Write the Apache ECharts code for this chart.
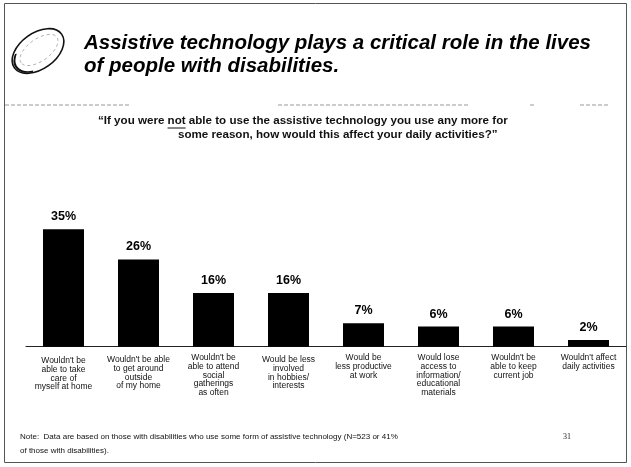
<!DOCTYPE html>
<html>
<head>
<meta charset="utf-8">
<script src="https://cdn.jsdelivr.net/npm/echarts@6/dist/echarts.min.js"></script>
<style>
  html, body { margin: 0; padding: 0; background: #fff; }
  #chart { width: 631px; height: 467px; }
</style>
</head>
<body>
<div id="chart"></div>
<script>
// Survey answers (category labels are pre-wrapped as printed)
const categories = [
  "Wouldn't be\nable to take\ncare of\nmyself at home",
  "Wouldn't be able\nto get around\noutside\nof my home",
  "Wouldn't be\nable to attend\nsocial\ngatherings\nas often",
  "Would be less\ninvolved\nin hobbies/\ninterests",
  "Would be\nless productive\nat work",
  "Would lose\naccess to\ninformation/\neducational\nmaterials",
  "Wouldn't be\nable to keep\ncurrent job",
  "Wouldn't affect\ndaily activities"
];
// Share of respondents, in percent
const shares = [35, 26, 16, 16, 7, 6, 6, 2];
// Small top offsets for the first few wrapped labels
const labelOffsets = [3, 2, 0, 2, 0, 0, 0, 0];

const FONT = "'Liberation Sans', Arial, sans-serif";
const TITLE_FONT = 'italic bold 20.5px ' + FONT;
const Q_FONT = 'bold 11.6px ' + FONT;
const Q_PRE = '\u201cIf you were ';
const Q_NOT = 'not';
const Q_POST = ' able to use the assistive technology you use any more for';
const Q_LINE2 = 'some reason, how would this affect your daily activities?\u201d';

// measure the question so "not" can be underlined
const ctx = document.createElement('canvas').getContext('2d');
ctx.font = Q_FONT;
const qStart = 98;
const preW = ctx.measureText(Q_PRE).width;
const notW = ctx.measureText(Q_NOT).width;

// broken rule segments under the headline: [x1, x2]
const ruleSegments = [[5, 129], [278, 470], [530, 535], [580, 610]];

const chart = echarts.init(document.getElementById('chart'), null, { renderer: 'canvas' });

chart.setOption({
  backgroundColor: '#ffffff',
  animation: false,
  grid: { left: 26, right: 5, top: 212.5, bottom: 120.3, containLabel: false },
  xAxis: {
    type: 'category',
    data: categories.map((c, i) => ({
      value: c,
      textStyle: { padding: [labelOffsets[i], 0, 0, 0] }
    })),
    axisLine: { lineStyle: { color: '#222', width: 1 } },
    axisTick: { show: false },
    axisLabel: {
      interval: 0,
      margin: 7,
      fontFamily: FONT,
      fontSize: 8.5,
      lineHeight: 8.6,
      color: '#111',
      align: 'center'
    }
  },
  yAxis: {
    type: 'value',
    min: 0,
    max: 40,
    show: false,
    splitLine: { show: false }
  },
  series: [{
    type: 'bar',
    data: shares,
    barWidth: 41,
    itemStyle: { color: '#000' },
    label: {
      show: true,
      position: 'top',
      distance: 6,
      formatter: '{c}%',
      fontFamily: FONT,
      fontWeight: 'bold',
      fontSize: 12.5,
      color: '#000'
    }
  }],
  graphic: [
    // page frame
    { type: 'rect', shape: { x: 4.5, y: 3.5, width: 622, height: 459 },
      style: { fill: null, stroke: '#555', lineWidth: 1 } },
    // logo ring
    { type: 'ellipse', x: 38, y: 51, rotation: 0.62,
      shape: { cx: 0, cy: 0, rx: 29, ry: 18 },
      style: { fill: null, stroke: '#111', lineWidth: 1.6 } },
    { type: 'arc', x: 38, y: 51, rotation: 0.62,
      shape: { cx: 0, cy: 1, r: 27, startAngle: 2.2, endAngle: 3.9 },
      scaleY: 0.6,
      style: { fill: null, stroke: '#111', lineWidth: 2.2 } },
    { type: 'ellipse', x: 39, y: 50, rotation: 0.62,
      shape: { cx: 0, cy: 0, rx: 22, ry: 11 },
      style: { fill: null, stroke: '#888', lineWidth: 0.6, lineDash: [3, 3] } },
    // headline
    { type: 'text', x: 84, y: 43,
      style: { text: 'Assistive technology plays a critical role in the lives',
        font: TITLE_FONT, fill: '#000', textVerticalAlign: 'middle' } },
    { type: 'text', x: 84, y: 66,
      style: { text: 'of people with disabilities.',
        font: TITLE_FONT, fill: '#000', textVerticalAlign: 'middle' } },
    // broken rule under the headline
    ...ruleSegments.map(([x1, x2]) => ({
      type: 'line', shape: { x1: x1, y1: 105, x2: x2, y2: 105 },
      style: { stroke: '#999', lineWidth: 1, lineDash: [4, 2] }
    })),
    // question
    { type: 'text', x: qStart, y: 121,
      style: { text: Q_PRE + Q_NOT + Q_POST,
        font: Q_FONT, fill: '#111', textVerticalAlign: 'middle' } },
    { type: 'text', x: 178, y: 135,
      style: { text: Q_LINE2,
        font: Q_FONT, fill: '#111', textVerticalAlign: 'middle' } },
    { type: 'line', shape: { x1: qStart + preW, y1: 128, x2: qStart + preW + notW, y2: 128 },
      style: { stroke: '#111', lineWidth: 1 } },
    // footnote
    { type: 'text', x: 20, y: 437,
      style: { text: 'Note:  Data are based on those with disabilities who use some form of assistive technology (N=523 or 41%',
        font: '8px ' + FONT, fill: '#111', textVerticalAlign: 'middle' } },
    { type: 'text', x: 20, y: 451,
      style: { text: 'of those with disabilities).',
        font: '8px ' + FONT, fill: '#111', textVerticalAlign: 'middle' } },
    { type: 'text', x: 563, y: 437,
      style: { text: '31', font: '8px "Liberation Serif", serif', fill: '#222', textVerticalAlign: 'middle' } }
  ]
});
</script>
</body>
</html>
